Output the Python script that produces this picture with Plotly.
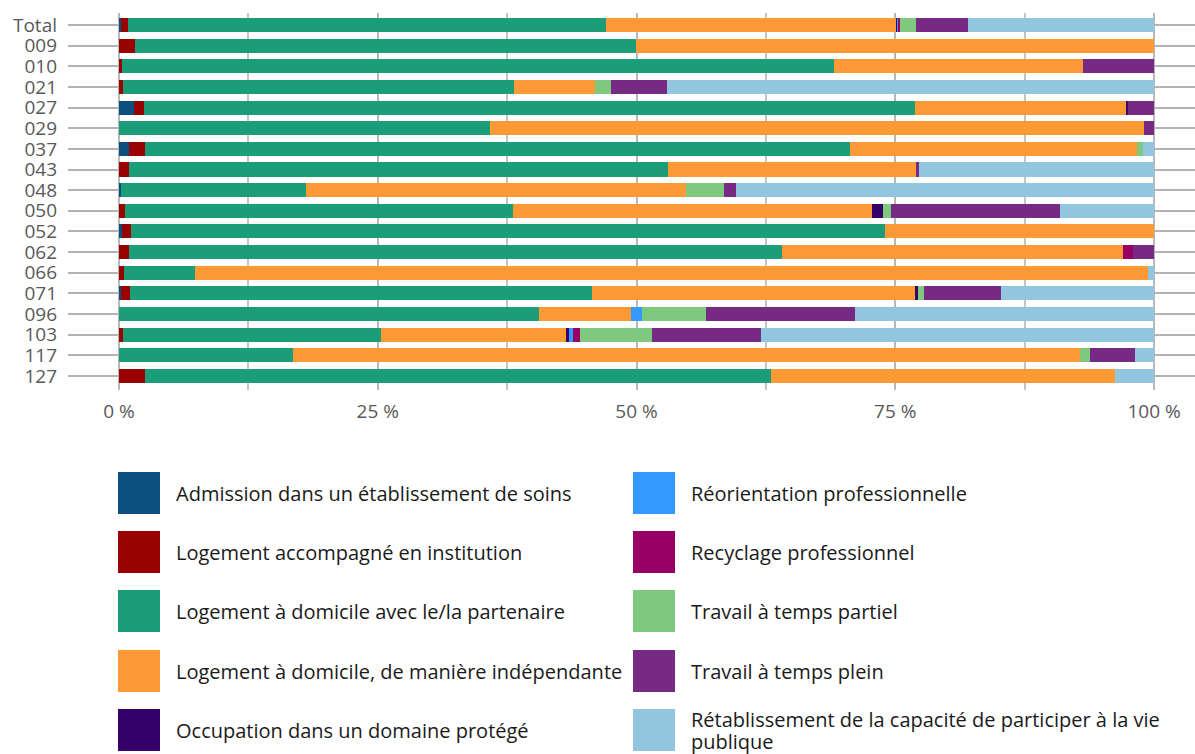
import plotly.graph_objects as go

# Categories, top to bottom
categories = ["Total", "009", "010", "021", "027", "029", "037", "043", "048",
              "050", "052", "062", "066", "071", "096", "103", "117", "127"]

series_names = [
    "Admission dans un établissement de soins",
    "Logement accompagné en institution",
    "Logement à domicile avec le/la partenaire",
    "Logement à domicile, de manière indépendante",
    "Occupation dans un domaine protégé",
    "Réorientation professionnelle",
    "Recyclage professionnel",
    "Travail à temps partiel",
    "Travail à temps plein",
    "Rétablissement de la capacité de participer à la vie<br>publique",
]

series_colors = ["#0b4f7e", "#990000", "#1b9e77", "#fe9a35", "#350068",
                 "#3399ff", "#990066", "#7fc97f", "#762a83", "#92c5de"]

# Shares in percent, one value per category
admission =     [0.2, 0, 0, 0, 1.4, 0, 1.0, 0, 0.15, 0, 0.25, 0, 0, 0.2, 0, 0, 0, 0]
institution =   [0.7, 1.55, 0.3, 0.4, 1.05, 0, 1.5, 0.95, 0, 0.6, 0.9, 1.0, 0.5, 0.85, 0, 0.4, 0, 2.5]
partenaire =    [46.15, 48.4, 68.8, 37.8, 74.45, 35.85, 68.1, 52.1, 17.9, 37.5, 72.85, 63.05, 6.85, 44.6, 40.6, 24.9, 16.8, 60.5]
independant =   [28.1, 50.05, 24.05, 7.8, 20.4, 63.2, 27.8, 23.95, 36.7, 34.65, 26.0, 32.95, 92.1, 31.25, 8.9, 17.9, 76.05, 33.25]
protege =       [0.07, 0, 0, 0, 0.2, 0, 0, 0, 0, 1.05, 0, 0, 0, 0.3, 0, 0.3, 0, 0]
reorientation = [0.1, 0, 0, 0, 0, 0, 0, 0, 0, 0, 0, 0, 0, 0, 1.05, 0.4, 0, 0]
recyclage =     [0.1, 0, 0, 0, 0, 0, 0, 0, 0, 0, 0, 0.95, 0, 0, 0, 0.6, 0, 0]
partiel =       [1.55, 0, 0, 1.55, 0, 0, 0.5, 0, 3.75, 0.8, 0, 0, 0, 0.6, 6.2, 6.95, 0.95, 0]
plein =         [5.1, 0, 6.85, 5.4, 2.5, 0.95, 0, 0.3, 1.15, 16.3, 0, 2.05, 0, 7.45, 14.4, 10.6, 4.4, 0]
publique =      [17.93, 0, 0, 47.05, 0, 0, 1.1, 22.7, 40.35, 9.1, 0, 0, 0.55, 14.75, 28.85, 37.95, 1.8, 3.75]

series_values = [admission, institution, partenaire, independant, protege,
                 reorientation, recyclage, partiel, plein, publique]

x_ticks = [0, 25, 50, 75, 100]
x_tick_labels = ["0 %", "25 %", "50 %", "75 %", "100 %"]

FONT = "Open Sans"
W, H = 1195, 754
# plot area in pixels
PX0, PX1 = 68, 1195
PY0, PY1 = 13, 390


def px(x):
    return (x - PX0) / (PX1 - PX0)


def py(y):
    return (PY1 - y) / (PY1 - PY0)


fig = go.Figure()
for name, color, vals in zip(series_names, series_colors, series_values):
    fig.add_trace(go.Bar(
        y=categories, x=vals, orientation="h", name=name.replace("<br>", " "),
        marker=dict(color=color, line=dict(width=0)),
        showlegend=False,
    ))

# custom legend: two columns of five swatches
shapes, annotations = [], []
row_y = [493, 552, 611, 671, 730]
col_x = [(118, 174), (633, 689)]
LINE_H = 22
for i, (name, color) in enumerate(zip(series_names, series_colors)):
    col, row = divmod(i, 5)
    sx, tx = col_x[col]
    cy = row_y[row]
    shapes.append(dict(type="rect", xref="paper", yref="paper",
                       x0=px(sx), x1=px(sx + 42), y0=py(cy + 21), y1=py(cy - 21),
                       fillcolor=color, line=dict(width=0)))
    lines = name.split("<br>")
    first = cy - (len(lines) - 1) * LINE_H / 2
    for k, line in enumerate(lines):
        annotations.append(dict(xref="paper", yref="paper", x=px(tx),
                                y=py(first + k * LINE_H),
                                text=line, showarrow=False, xanchor="left",
                                yanchor="middle", align="left",
                                font=dict(family=FONT, size=20, color="#1a1a1a")))

fig.update_layout(
    width=W, height=H,
    margin=dict(l=PX0, r=W - PX1, t=PY0, b=H - PY1, pad=0),
    barmode="stack", bargap=0.32,
    plot_bgcolor="white", paper_bgcolor="white",
    font=dict(family=FONT, color="#595959"),
    shapes=shapes, annotations=annotations,
    xaxis=dict(
        range=[-4.93, 103.96], tickmode="array", tickvals=x_ticks,
        ticktext=x_tick_labels,
        showgrid=True, gridcolor="#b8b8b8", gridwidth=2, zeroline=False,
        minor=dict(tickvals=[12.5, 37.5, 62.5, 87.5], showgrid=True,
                   gridcolor="#c4c4c4", gridwidth=2),
        tickfont=dict(family=FONT, size=19, color="#595959"),
        ticks="", ticklabelstandoff=8, showline=False,
    ),
    yaxis=dict(
        type="category", categoryorder="array", categoryarray=categories,
        tickmode="array", tickvals=categories, ticktext=categories,
        range=[17.68, -0.58], showgrid=True, gridcolor="#b3b3b3", gridwidth=2,
        tickfont=dict(family=FONT, size=19, color="#595959"),
        ticks="", ticklabelstandoff=10, zeroline=False, showline=False,
    ),
)

fig.write_html("out.html")
